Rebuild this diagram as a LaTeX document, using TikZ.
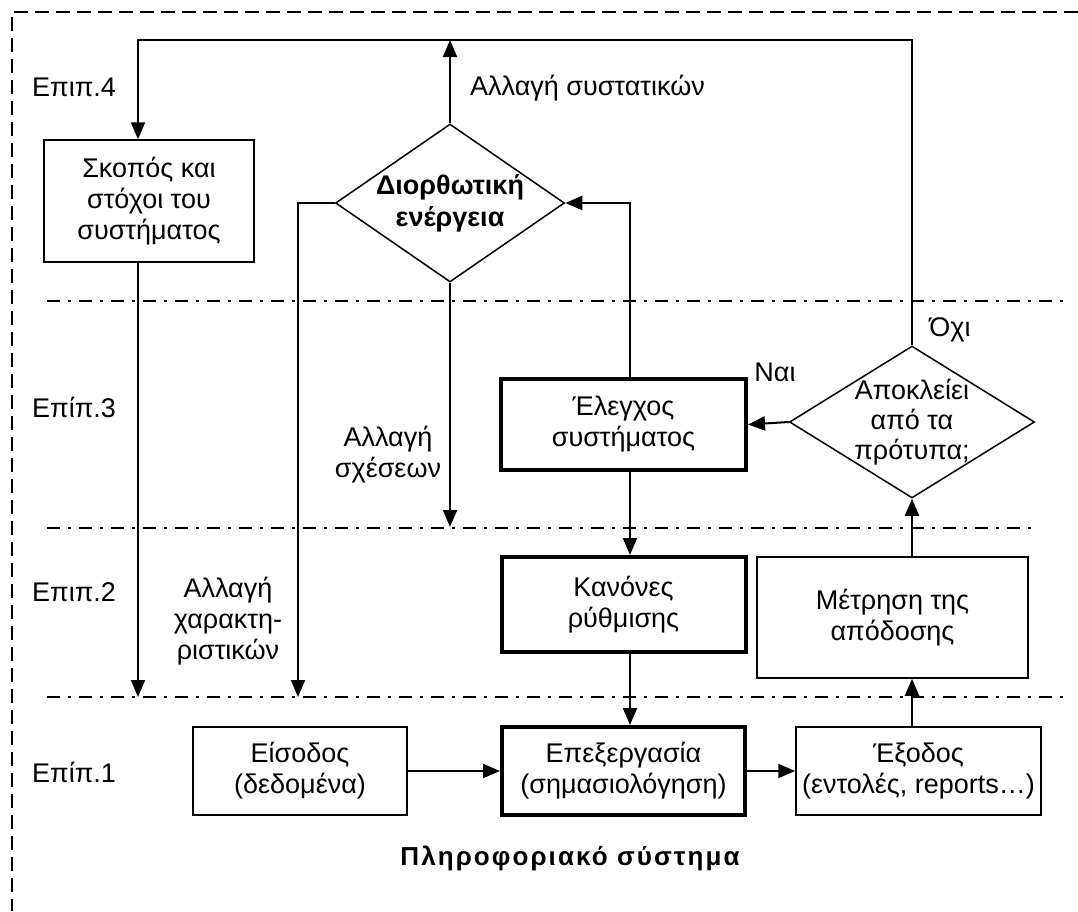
\documentclass[tikz,border=0pt]{standalone}
\usepackage{fontspec}
\setmainfont{Liberation Sans}
\usetikzlibrary{arrows.meta,shapes.geometric}

\begin{document}
\begin{tikzpicture}[x=1pt,y=-1pt,
  font=\fontsize{27}{31}\selectfont,
  box/.style={draw, line width=1.5pt, align=center, inner sep=0pt},
  boldbox/.style={box, line width=4pt},
  dec/.style={draw, diamond, line width=1.5pt, inner sep=0pt},
  arr/.style={line width=2pt, -{Triangle[length=17pt,width=14pt]}},
  level/.style={line width=1.2pt, dash pattern=on 13pt off 8pt on 3pt off 8pt},
  frame/.style={line width=1.5pt, dash pattern=on 14pt off 7pt},
  txt/.style={align=center, inner sep=0pt},
  lvl/.style={anchor=west, inner sep=0pt},
]
\useasboundingbox (0,0) rectangle (1078,911);

% outer frame of the information system
\draw[frame] (1078,12) -- (12,12) -- (12,911);

% level separators
\draw[level] (47,301) -- (1068,301);
\draw[level] (47,528) -- (1035,528);
\draw[level] (47,697) -- (1068,697);

% level labels
\node[lvl] (l4) at (32,87)  {Επιπ.4};
\node[lvl] (l3) at (32,407) {Επίπ.3};
\node[lvl] (l2) at (32,592) {Επιπ.2};
\node[lvl] (l1) at (32,772) {Επίπ.1};

% boxes
\node[box, minimum width=210, minimum height=122] (goal) at (149,201) {Σκοπός και\\στόχοι του\\συστήματος};
\node[boldbox, minimum width=245, minimum height=91] (ctrl) at (623.5,424.5) {Έλεγχος\\συστήματος};
\node[boldbox, minimum width=244, minimum height=95] (rules) at (623.5,604.5) {Κανόνες\\ρύθμισης};
\node[box, minimum width=271, minimum height=121] (meas) at (892.5,617.5) {Μέτρηση της\\απόδοσης};
\node[box, minimum width=214, minimum height=88] (input) at (300,771) {Είσοδος\\(δεδομένα)};
\node[boldbox, minimum width=243, minimum height=88] (proc) at (623.5,771) {Επεξεργασία\\(σημασιολόγηση)};
\node[box, minimum width=245, minimum height=88] (output) at (918.5,771) {Έξοδος\\(εντολές, reports…)};

% decisions
\node[dec, minimum width=229, minimum height=158] (corr) at (450,203) {};
\node[txt, font=\fontsize{27}{32}\selectfont\bfseries] (corrt) at (corr.center) {Διορθωτική\\ενέργεια};
\node[dec, minimum width=245, minimum height=152] (dev) at (912,422) {};
\node[txt, font=\fontsize{27}{30}\selectfont] (devt) at (dev.center) {Αποκλείει\\από τα\\πρότυπα;};

% helper coordinates
\coordinate (topL) at (138,40);
\coordinate (topR) at (912,40);
\coordinate (gx) at (138,0);
\coordinate (cx) at (630,0);
\coordinate (mx) at (912,0);
\coordinate (rel) at (450,527);
\coordinate (chr) at (298,697);
\coordinate (gend) at (138,697);

% connectors
\draw[arr] (dev.north) -- (topR) -- (topL) -- (goal.north -| gx);
\draw[arr] (corr.north) -- (corr.north |- topL);
\draw[arr] (goal.south -| gx) -- (gend);
\draw[arr] (corr.west) -| (chr);
\draw[arr] (corr.south) -- (rel);
\draw[arr] (ctrl.north -| cx) |- (corr.east);
\draw[arr] (dev.west) -- (ctrl.east);
\draw[arr] (ctrl.south -| cx) -- (rules.north -| cx);
\draw[arr] (rules.south -| cx) -- (proc.north -| cx);
\draw[arr] (input.east) -- (proc.west);
\draw[arr] (proc.east) -- (output.west);
\draw[arr] (output.north -| mx) -- (meas.south -| mx);
\draw[arr] (meas.north -| mx) -- (dev.south);

% connector labels
\node[anchor=west, inner sep=0pt] (lsyst) at (470,88) {Αλλαγή συστατικών};
\node[txt] (lrel) at (388,455) {Αλλαγή\\σχέσεων};
\node[txt] (lchr) at (228,621) {Αλλαγή\\χαρακτη-\\ριστικών};
\node[txt] (lyes) at (775,372) {Ναι};
\node[txt] (lno) at (950,330) {Όχι};

% caption
\node[txt, font=\fontsize{26}{30}\selectfont\bfseries\addfontfeature{LetterSpace=8}] (title) at (570,858) {Πληροφοριακό σύστημα};
\end{tikzpicture}
\end{document}
